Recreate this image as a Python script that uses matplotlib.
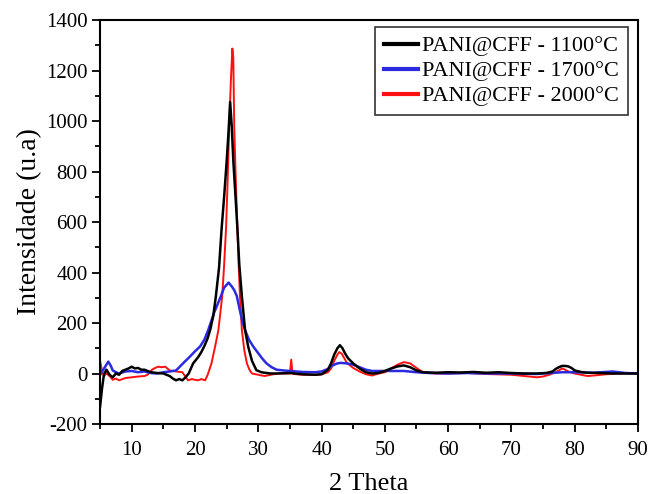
import matplotlib
matplotlib.use("Agg")
import matplotlib.pyplot as plt
from matplotlib.ticker import MultipleLocator

plt.rcParams["font.family"] = ["Liberation Serif", "DejaVu Serif"]
plt.rcParams["axes.unicode_minus"] = False

# XRD patterns (2 theta, intensity)
theta_1100 = [5.0, 5.3, 5.6, 6.0, 6.5, 7.0, 7.5, 8.0, 8.5, 9.0, 9.5, 10.0, 10.5, 11.0, 11.5,
              12.0, 12.5, 13.0, 14.0, 15.0, 15.5, 16.0, 16.5, 17.0, 17.5, 18.0, 18.5, 19.0,
              19.7, 20.5, 21.0, 21.5, 22.0, 22.4, 22.9, 23.3, 23.8, 24.2, 24.6, 25.0, 25.3,
              25.55, 25.8, 26.06, 26.4, 26.7, 27.0, 27.4, 27.9, 28.4, 29.0, 29.7, 30.5,
              31.0, 32.0, 33.0, 35.0, 37.0, 39.0, 40.0, 40.5, 41.0, 41.5, 42.0, 42.5, 42.9,
              43.3, 43.7, 44.2, 45.0, 46.0, 47.0, 48.0, 49.0, 50.0, 51.0, 52.0, 53.0, 54.0,
              55.0, 56.0, 58.0, 60.0, 62.0, 64.0, 66.0, 68.0, 70.0, 72.0, 74.0, 75.5, 76.5,
              77.0, 77.5, 78.0, 78.5, 79.0, 79.5, 80.0, 81.0, 82.0, 84.0, 86.0, 88.0, 90.0]
int_1100 = [-130, -60, -5, 15, -5, -15, 0, -5, 10, 15, 20, 27, 20, 22, 15,
            15, 10, 5, 2, 0, -5, -10, -20, -27, -22, -27, -15, 0,
            40, 65, 85, 110, 140, 173, 230, 307, 420, 573, 700, 839, 960,
            1075, 980, 839, 700, 573, 430, 307, 173, 107, 50, 13, 5,
            3, 0, 0, 2, -3, -5, -3, 5, 15, 40, 75, 100, 112,
            100, 80, 60, 40, 20, 5, 0, 2, 10, 20, 28, 32, 25,
            12, 5, 3, 5, 4, 6, 3, 5, 2, 0, 0, 2, 8,
            18, 25, 30, 30, 28, 22, 12, 6, 3, 2, 0, 0, 0]

theta_1700 = [5.0, 5.5, 6.0, 6.3, 6.7, 7.0, 7.5, 8.0, 9.0, 10.0, 11.0, 12.0, 13.0, 14.0,
              15.0, 16.0, 17.0, 18.1, 18.5, 19.0, 19.5, 20.0, 20.8, 21.5, 22.1, 22.6,
              23.0, 23.5, 24.1, 24.6, 25.3, 25.8, 26.2, 26.6, 27.0, 27.4, 27.9, 28.5, 29.2,
              30.0, 30.6, 31.3, 32.1, 32.9, 34.0, 35.0, 37.0, 39.0, 40.0, 41.0, 41.5, 42.0,
              42.5, 43.0, 44.0, 45.0, 46.0, 47.0, 48.0, 50.0, 52.0, 53.0, 55.0, 57.0, 60.0,
              63.0, 66.0, 70.0, 74.0, 78.0, 80.0, 83.0, 86.0, 88.0, 90.0]
int_1700 = [-5, 15, 35, 47, 30, 12, 5, 0, 8, 10, 5, 8, 2, 0,
            5, 8, 12, 40, 50, 62, 75, 88, 107, 135, 173, 210,
            240, 270, 307, 340, 360, 345, 330, 307, 260, 215, 173, 135, 107,
            80, 60, 40, 25, 15, 12, 10, 6, 5, 8, 18, 28, 35,
            40, 42, 40, 35, 25, 15, 10, 10, 10, 10, 5, 2, 0,
            2, 0, 0, -2, 5, 5, 3, 8, 2, 0]

theta_2000 = [5.0, 5.3, 5.6, 6.0, 6.5, 7.0, 7.5, 8.0, 9.0, 10.0, 11.0, 12.0, 12.5, 13.2,
              13.7, 14.2, 14.7, 15.3, 16.0, 17.0, 18.0, 18.9, 19.5, 20.0, 20.5, 21.0, 21.6,
              22.0, 22.6, 23.2, 23.7, 24.0, 24.3, 24.6, 24.9, 25.15, 25.4, 25.65, 25.9, 26.05,
              26.2, 26.45, 26.7, 26.9, 27.1, 27.4, 27.8, 28.2, 28.6, 29.0, 30.0, 31.0, 33.0,
              35.0, 35.2, 35.4, 35.6, 37.0, 39.0, 40.0, 41.0, 41.5, 42.0, 42.5, 42.8, 43.2,
              43.6, 44.0, 45.0, 46.0, 47.0, 48.0, 49.0, 50.0, 51.0, 52.0, 53.0, 54.0, 55.0,
              56.0, 58.0, 60.0, 63.0, 66.0, 70.0, 72.0, 74.0, 75.0, 76.0, 77.0, 77.5, 78.0,
              78.5, 79.0, 80.0, 81.0, 82.0, 83.0, 85.0, 87.0, 90.0]
int_2000 = [50, 10, -10, 0, -10, -25, -20, -27, -18, -15, -12, -10, -5, 15,
            22, 27, 25, 27, 12, 8, 5, -27, -22, -25, -27, -22, -27,
            -5, 40, 110, 173, 240, 307, 430, 573, 760, 973, 1150, 1287, 1250,
            973, 760, 573, 430, 307, 173, 90, 40, 15, 0, -5, -10, 0,
            0, 55, 0, -2, -5, -5, -3, 5, 20, 50, 75, 85, 78,
            60, 42, 22, 8, -3, -8, 0, 5, 20, 35, 45, 40, 22,
            5, 0, 0, 2, -2, -5, -10, -15, -12, -5, 5, 12, 20,
            15, 8, 0, -5, -10, -8, -3, 0, 0]

series_labels = ["PANI@CFF - 1100°C", "PANI@CFF - 1700°C", "PANI@CFF - 2000°C"]
series_colors = ["#000000", "#2a2ae0", "#ff1010"]


def main():
    fig = plt.figure(figsize=(6.5, 4.94), dpi=100)
    axis = fig.add_axes([0.154, 0.1417, 0.8275, 0.8178])

    # draw red under blue under black, like the original
    line_red, = axis.plot(theta_2000, int_2000, color=series_colors[2], linewidth=1.4)
    line_blue, = axis.plot(theta_1700, int_1700, color=series_colors[1], linewidth=1.8)
    line_black, = axis.plot(theta_1100, int_1100, color=series_colors[0], linewidth=1.8)

    axis.set_xlim(5, 90)
    axis.set_ylim(-200, 1400)
    axis.xaxis.set_major_locator(MultipleLocator(10))
    axis.xaxis.set_minor_locator(MultipleLocator(5))
    axis.yaxis.set_major_locator(MultipleLocator(200))
    axis.yaxis.set_minor_locator(MultipleLocator(100))

    axis.tick_params(which="both", direction="out", top=False, right=False,
                     width=1.3, labelsize=15)
    axis.tick_params(which="major", length=5.5)
    axis.tick_params(which="minor", length=3.5)
    axis.tick_params(axis="x", which="major", pad=7)

    for spine in axis.spines.values():
        spine.set_linewidth(1.5)

    axis.set_xlabel("2 Theta", fontsize=19, labelpad=9)
    axis.set_ylabel("Intensidade (u.a)", fontsize=20, labelpad=3)

    legend = axis.legend(
        [line_black, line_blue, line_red],
        series_labels,
        loc="upper right",
        bbox_to_anchor=(0.981, 0.983),
        borderaxespad=0.0,
        fontsize=16,
        frameon=True,
        fancybox=False,
        edgecolor="black",
        handlelength=1.5,
        handletextpad=0.2,
        borderpad=0.4,
        labelspacing=0.2,
    )
    legend.get_frame().set_linewidth(1.2)
    for handle in legend.legend_handles:
        handle.set_linewidth(3)

    fig.savefig("out.png", dpi=100)
    plt.close(fig)


if __name__ == "__main__":
    main()
